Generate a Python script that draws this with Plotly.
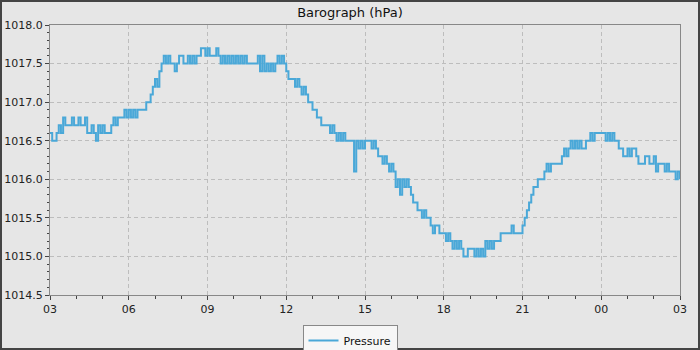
import plotly.graph_objects as go
import pandas as pd

# ---- data (5-minute readings, 03:00 -> 03:00 next day) ----
start_time = "2024-01-01 03:00"
end_time = "2024-01-02 03:00"
sample_minutes = 5
series_name = "Pressure"
chart_title = "Barograph (hPa)"

pressure_hpa = [
    # 03h
    1016.6, 1016.5, 1016.5, 1016.6, 1016.7, 1016.6, 1016.8, 1016.7, 1016.7, 1016.7, 1016.8, 1016.7,
    # 04h
    1016.7, 1016.8, 1016.7, 1016.7, 1016.8, 1016.6, 1016.6, 1016.7, 1016.6, 1016.5, 1016.7, 1016.6,
    # 05h
    1016.7, 1016.6, 1016.6, 1016.6, 1016.7, 1016.8, 1016.7, 1016.8, 1016.8, 1016.8, 1016.9, 1016.8,
    # 06h
    1016.9, 1016.8, 1016.9, 1016.8, 1016.9, 1016.9, 1016.9, 1016.9, 1017.0, 1017.0, 1017.1, 1017.2,
    # 07h
    1017.3, 1017.2, 1017.4, 1017.5, 1017.6, 1017.5, 1017.6, 1017.5, 1017.5, 1017.4, 1017.5, 1017.6,
    # 08h
    1017.6, 1017.5, 1017.5, 1017.6, 1017.5, 1017.6, 1017.5, 1017.6, 1017.6, 1017.7, 1017.7, 1017.6,
    # 09h
    1017.7, 1017.6, 1017.6, 1017.6, 1017.7, 1017.6, 1017.5, 1017.6, 1017.5, 1017.6, 1017.5, 1017.6,
    # 10h
    1017.5, 1017.6, 1017.5, 1017.6, 1017.5, 1017.6, 1017.5, 1017.5, 1017.5, 1017.5, 1017.5, 1017.6,
    # 11h
    1017.4, 1017.6, 1017.4, 1017.5, 1017.4, 1017.5, 1017.4, 1017.5, 1017.6, 1017.5, 1017.6, 1017.5,
    # 12h
    1017.4, 1017.3, 1017.3, 1017.3, 1017.2, 1017.3, 1017.2, 1017.1, 1017.2, 1017.1, 1017.0, 1017.0,
    # 13h
    1016.9, 1016.9, 1016.8, 1016.8, 1016.7, 1016.7, 1016.7, 1016.7, 1016.6, 1016.7, 1016.6, 1016.5,
    # 14h
    1016.6, 1016.5, 1016.6, 1016.5, 1016.5, 1016.5, 1016.5, 1016.1, 1016.5, 1016.4, 1016.5, 1016.4,
    # 15h
    1016.5, 1016.5, 1016.5, 1016.4, 1016.5, 1016.4, 1016.3, 1016.3, 1016.2, 1016.3, 1016.2, 1016.1,
    # 16h
    1016.2, 1016.1, 1015.9, 1016.0, 1015.8, 1016.0, 1015.9, 1016.0, 1015.9, 1015.8, 1015.7, 1015.7,
    # 17h
    1015.6, 1015.6, 1015.5, 1015.6, 1015.5, 1015.5, 1015.4, 1015.3, 1015.4, 1015.4, 1015.3, 1015.3,
    # 18h
    1015.3, 1015.2, 1015.3, 1015.2, 1015.1, 1015.2, 1015.1, 1015.2, 1015.1, 1015.0, 1015.0, 1015.1,
    # 19h
    1015.1, 1015.1, 1015.0, 1015.1, 1015.0, 1015.1, 1015.0, 1015.2, 1015.1, 1015.2, 1015.1, 1015.2,
    # 20h
    1015.2, 1015.2, 1015.3, 1015.3, 1015.3, 1015.3, 1015.3, 1015.4, 1015.3, 1015.3, 1015.3, 1015.3,
    # 21h
    1015.4, 1015.5, 1015.6, 1015.7, 1015.8, 1015.9, 1015.9, 1016.0, 1016.0, 1016.0, 1016.1, 1016.2,
    # 22h
    1016.1, 1016.2, 1016.2, 1016.2, 1016.2, 1016.2, 1016.3, 1016.4, 1016.3, 1016.4, 1016.5, 1016.4,
    # 23h
    1016.5, 1016.4, 1016.5, 1016.4, 1016.4, 1016.5, 1016.5, 1016.6, 1016.5, 1016.6, 1016.6, 1016.6,
    # 00h
    1016.6, 1016.6, 1016.5, 1016.6, 1016.5, 1016.6, 1016.5, 1016.5, 1016.4, 1016.4, 1016.3, 1016.3,
    # 01h
    1016.4, 1016.3, 1016.4, 1016.4, 1016.3, 1016.2, 1016.2, 1016.2, 1016.3, 1016.3, 1016.2, 1016.2,
    # 02h
    1016.3, 1016.1, 1016.2, 1016.2, 1016.2, 1016.1, 1016.2, 1016.1, 1016.1, 1016.1, 1016.0, 1016.1,
    # 03h
    1016.0,
]

y_range = [1014.5, 1018.0]

times = pd.date_range(start_time, periods=len(pressure_hpa), freq=f"{sample_minutes}min")

FONT = "DejaVu Sans"
BG = "#e6e6e6"

fig = go.Figure()
fig.add_trace(go.Scatter(
    x=times, y=pressure_hpa, mode="lines", name=series_name,
    line=dict(color="#4aa8d8", width=2, shape="hv"),
))

W, H = 700, 350
L, R, T, B = 50, 20, 25, 55
pw, ph = W - L - R, H - T - B

fig.update_layout(
    width=W, height=H,
    margin=dict(l=L, r=R, t=T, b=B, pad=0, autoexpand=False),
    paper_bgcolor=BG, plot_bgcolor=BG,
    font=dict(family=FONT, size=11, color="#222222"),
    title=dict(text=chart_title, x=0.5, xanchor="center", xref="container",
               y=1 - 12 / H, yanchor="middle", yref="container",
               font=dict(family=FONT, size=13, color="#111111")),
    showlegend=True,
    legend=dict(orientation="h", x=0.5, xanchor="center", xref="container",
                y=(H - 325) / H, yanchor="top", yref="container",
                bgcolor="#f6f6f6", bordercolor="#888888", borderwidth=1,
                font=dict(family=FONT, size=11, color="#111111"),
                itemwidth=30, tracegroupgap=0),
    shapes=[dict(type="rect", xref="paper", yref="paper",
                 x0=-L / pw, x1=1 + R / pw, y0=-B / ph, y1=1 + T / ph,
                 line=dict(color="#444444", width=4), fillcolor="rgba(0,0,0,0)")],
)

fig.update_xaxes(
    range=[start_time, end_time], type="date", automargin=False,
    tick0=start_time, dtick=3 * 3600 * 1000, tickformat="%H",
    showline=True, linecolor="#888888", linewidth=1, mirror=True,
    showgrid=True, gridcolor="#bdbdbd", griddash="4px,3px", gridwidth=1,
    ticks="outside", ticklen=4, tickcolor="#444444",
    minor=dict(dtick=3600 * 1000, ticks="outside", ticklen=3, tickcolor="#444444", showgrid=False),
    zeroline=False, tickfont=dict(family=FONT, size=11, color="#222222"),
)
fig.update_yaxes(
    range=y_range, dtick=0.5, tickformat=".1f", automargin=False,
    showline=True, linecolor="#888888", linewidth=1, mirror=True,
    showgrid=True, gridcolor="#bdbdbd", griddash="4px,3px", gridwidth=1,
    ticks="outside", ticklen=4, tickcolor="#444444",
    minor=dict(dtick=0.1, ticks="outside", ticklen=2, tickcolor="#444444", showgrid=False),
    zeroline=False, tickfont=dict(family=FONT, size=11, color="#222222"),
)

fig.write_html("out.html", config={"displayModeBar": False},
               post_script="document.body.style.margin='0';")
